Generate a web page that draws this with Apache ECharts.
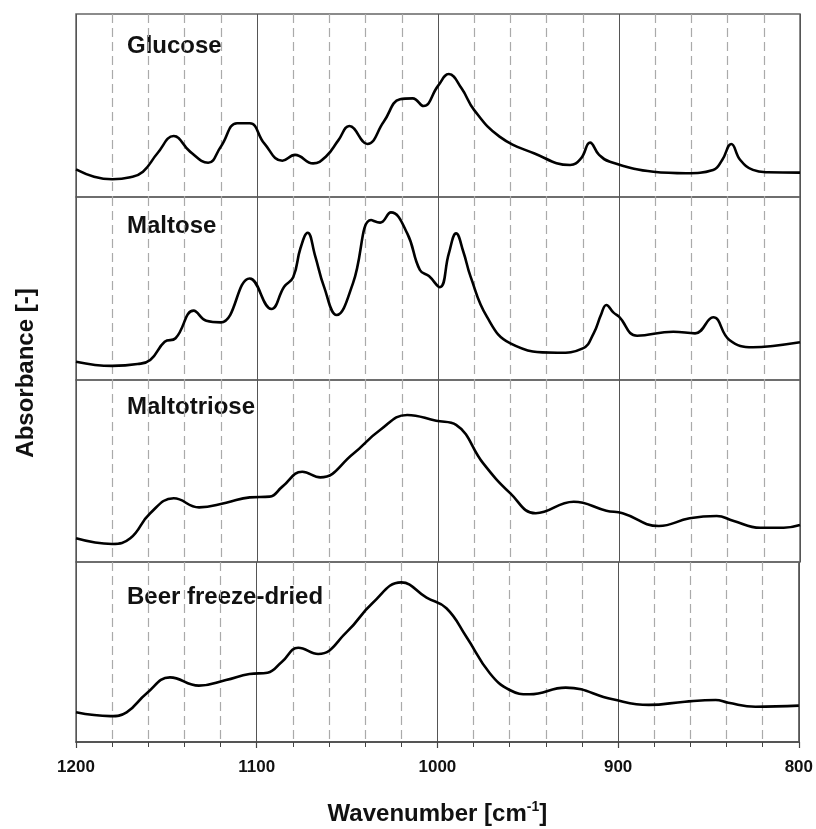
<!DOCTYPE html>
<html>
<head>
<meta charset="utf-8">
<script src="https://cdn.jsdelivr.net/npm/echarts@6/dist/echarts.min.js"></script>
<style>
  html, body { margin: 0; background: #fff; }
  #chart { width: 816px; height: 829px; }
</style>
</head>
<body>
<div id="chart"></div>
<script>
// wavenumbers (cm-1) and absorbance (arbitrary units)
const panelNames = ['Glucose', 'Maltose', 'Maltotriose', 'Beer freeze-dried'];
const xTicks = [1200, 1100, 1000, 900, 800];

const glucoseWn = [1200, 1190, 1180, 1170, 1163, 1155, 1146, 1137, 1127, 1120, 1111, 1104, 1096, 1086, 1079, 1069, 1062, 1055, 1049, 1039, 1030, 1021, 1014, 1008, 1000, 994, 987, 980, 966, 947, 927, 921, 916, 911, 905, 881, 863, 848, 843, 838, 833, 826, 818, 800];
const glucoseAbs = [0.151, 0.111, 0.097, 0.108, 0.138, 0.239, 0.333, 0.248, 0.187, 0.275, 0.403, 0.403, 0.293, 0.198, 0.230, 0.184, 0.220, 0.311, 0.388, 0.290, 0.411, 0.534, 0.539, 0.497, 0.607, 0.672, 0.594, 0.475, 0.330, 0.239, 0.175, 0.211, 0.297, 0.230, 0.193, 0.138, 0.130, 0.148, 0.202, 0.290, 0.202, 0.148, 0.135, 0.133];

const maltoseWn = [1200, 1180, 1166, 1159, 1151, 1145, 1135, 1128, 1120, 1104, 1092, 1085, 1080, 1076, 1072, 1068, 1063, 1056, 1047, 1037, 1032, 1026, 1017, 1010, 1005, 999, 994, 990, 986, 982, 973, 960, 934, 920, 914, 910, 907, 903, 900, 890, 870, 858, 848, 839, 826, 815, 800];
const maltoseAbs = [0.100, 0.077, 0.087, 0.109, 0.209, 0.228, 0.379, 0.324, 0.315, 0.555, 0.388, 0.510, 0.561, 0.720, 0.805, 0.683, 0.510, 0.355, 0.528, 0.874, 0.860, 0.916, 0.801, 0.601, 0.568, 0.507, 0.692, 0.801, 0.701, 0.565, 0.346, 0.200, 0.149, 0.173, 0.255, 0.355, 0.410, 0.368, 0.346, 0.242, 0.264, 0.255, 0.343, 0.219, 0.179, 0.186, 0.206];

const maltotrioseWn = [1200, 1180, 1170, 1159, 1146, 1132, 1117, 1104, 1093, 1086, 1075, 1065, 1047, 1032, 1017, 1001, 990, 975, 960, 946, 925, 907, 898, 878, 861, 846, 837, 822, 809, 800];
const maltotrioseAbs = [0.130, 0.099, 0.130, 0.268, 0.350, 0.300, 0.326, 0.355, 0.359, 0.414, 0.496, 0.465, 0.593, 0.725, 0.808, 0.776, 0.753, 0.542, 0.377, 0.268, 0.331, 0.282, 0.268, 0.198, 0.240, 0.253, 0.227, 0.188, 0.188, 0.203];

const beerWn = [1200, 1181, 1172, 1161, 1148, 1132, 1117, 1104, 1094, 1086, 1077, 1066, 1050, 1036, 1020, 1006, 995, 984, 971, 960, 949, 929, 903, 883, 863, 846, 839, 824, 800];
const beerAbs = [0.165, 0.144, 0.165, 0.270, 0.359, 0.313, 0.344, 0.378, 0.385, 0.446, 0.524, 0.489, 0.613, 0.771, 0.887, 0.802, 0.743, 0.585, 0.382, 0.289, 0.265, 0.302, 0.237, 0.206, 0.224, 0.233, 0.218, 0.196, 0.202];

const spectra = [
  [glucoseWn, glucoseAbs],
  [maltoseWn, maltoseAbs],
  [maltotrioseWn, maltotrioseAbs],
  [beerWn, beerAbs]
];

const FONT = 'Liberation Sans, Arial, sans-serif';
const panelTop = [14, 197, 380, 562];
const panelHeight = [183, 183, 182, 180];
const labelOffset = [33, 30, 28, 36];

const chart = echarts.init(document.getElementById('chart'), null, { renderer: 'canvas' });

const grids = panelTop.map((top, i) => ({
  left: 76,
  right: 16,
  top: top,
  height: panelHeight[i],
  show: true,
  borderColor: '#666',
  borderWidth: 1.5
}));

const xAxes = panelTop.map((_, i) => {
  const bottom = i === panelTop.length - 1;
  return {
    gridIndex: i,
    type: 'value',
    min: xTicks[xTicks.length - 1],
    max: xTicks[0],
    interval: 100,
    inverse: true,
    axisLine: { show: bottom, lineStyle: { color: '#444', width: 1.5 } },
    axisTick: { show: bottom, length: 6, lineStyle: { color: '#444', width: 1.2 } },
    minorTick: { show: bottom, splitNumber: 5, length: 5, lineStyle: { color: '#444', width: 1 } },
    axisLabel: {
      show: bottom,
      margin: 17,
      color: '#111',
      fontFamily: FONT,
      fontWeight: 'bold',
      fontSize: 17,
      formatter: (v) => String(v)
    },
    splitLine: { show: true, lineStyle: { color: '#555', width: 1 } },
    minorSplitLine: { show: true, lineStyle: { color: '#aaa', width: 1.2, type: [9, 5] } },
    name: bottom ? '{a|Wavenumber [cm}{s|-1}{a|]}' : '',
    nameLocation: 'middle',
    nameGap: 58,
    nameTextStyle: {
      rich: {
        a: { fontFamily: FONT, fontWeight: 'bold', fontSize: 24, color: '#111', lineHeight: 28 },
        s: { fontFamily: FONT, fontWeight: 'bold', fontSize: 14, color: '#111', verticalAlign: 'top', lineHeight: 14 }
      }
    }
  };
});

const yAxes = panelTop.map((_, i) => ({
  gridIndex: i,
  type: 'value',
  min: 0,
  max: 1,
  show: false
}));

const series = spectra.map(([wn, abs], i) => ({
  name: panelNames[i],
  type: 'line',
  xAxisIndex: i,
  yAxisIndex: i,
  data: wn.map((w, k) => [w, abs[k]]),
  smooth: 0.45,
  showSymbol: false,
  lineStyle: { color: '#000', width: 2.6 }
}));

const graphic = panelNames.map((name, i) => ({
  type: 'text',
  left: 127,
  top: panelTop[i] + labelOffset[i] - 13,
  style: {
    text: name,
    fill: '#111',
    font: 'bold 24px ' + FONT
  }
}));

graphic.push({
  type: 'text',
  x: 26,
  y: 373,
  rotation: Math.PI / 2,
  style: {
    text: 'Absorbance [-]',
    fill: '#111',
    font: 'bold 24px ' + FONT,
    align: 'center',
    verticalAlign: 'middle'
  }
});

chart.setOption({
  animation: false,
  backgroundColor: '#fff',
  grid: grids,
  xAxis: xAxes,
  yAxis: yAxes,
  series: series,
  graphic: graphic
});
</script>
</body>
</html>
